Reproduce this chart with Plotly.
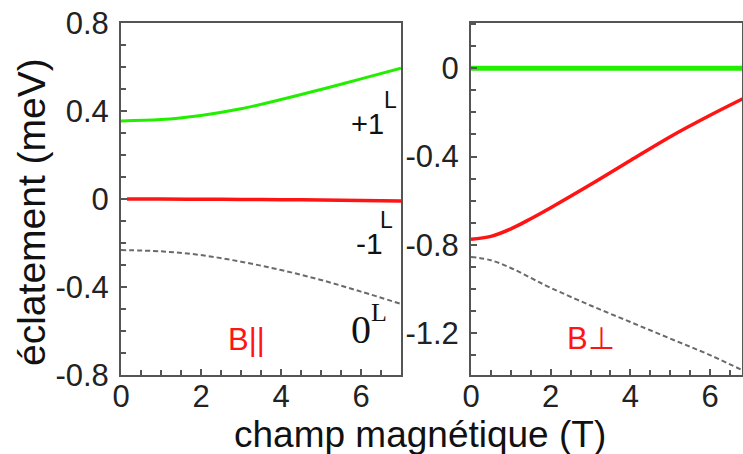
import plotly.graph_objects as go

W, H = 743, 454

# ---- data ----
# left panel: B parallel
par_green_x = [0, 1, 2, 3, 4, 5, 6, 7]
par_green_y = [0.355, 0.361, 0.380, 0.410, 0.452, 0.498, 0.546, 0.594]
par_red_x = [0.15, 1, 2, 3, 4, 5, 6, 7]
par_red_y = [0.0, 0.0, -0.001, -0.002, -0.003, -0.005, -0.007, -0.009]
par_gray_x = [0, 1, 2, 3, 4, 5, 6, 7]
par_gray_y = [-0.232, -0.238, -0.255, -0.285, -0.323, -0.368, -0.421, -0.477]

# right panel: B perpendicular
perp_green_x = [0, 1, 2, 3, 4, 5, 6, 7]
perp_green_y = [0, 0, 0, 0, 0, 0, 0, 0]
perp_red_x = [0, 0.5, 1, 1.5, 2, 3, 4, 5, 6, 7]
perp_red_y = [-0.775, -0.762, -0.728, -0.682, -0.632, -0.527, -0.418, -0.31, -0.213, -0.122]
perp_gray_x = [0, 0.5, 1, 1.5, 2, 3, 4, 5, 6, 7]
perp_gray_y = [-0.855, -0.87, -0.905, -0.95, -0.995, -1.075, -1.15, -1.225, -1.3, -1.385]

x_tickvals = [0, 2, 4, 6]
x_ticktext = ["0", "2", "4", "6"]
left_tickvals = [-0.8, -0.4, 0, 0.4, 0.8]
left_ticktext = ["-0.8", "-0.4", "0", "0.4", "0.8"]
right_tickvals = [-1.2, -0.8, -0.4, 0]
right_ticktext = ["-1.2", "-0.8", "-0.4", "0"]

GREEN = "#22ee00"
RED = "#ff1414"
GRAY = "#6a6a6a"
AX = "#555555"

fig = go.Figure()
fig.add_trace(go.Scatter(x=par_green_x, y=par_green_y, mode="lines", line=dict(color=GREEN, width=3, shape="spline", smoothing=1), xaxis="x", yaxis="y"))
fig.add_trace(go.Scatter(x=par_red_x, y=par_red_y, mode="lines", line=dict(color=RED, width=3.5, shape="spline"), xaxis="x", yaxis="y"))
fig.add_trace(go.Scatter(x=par_gray_x, y=par_gray_y, mode="lines", line=dict(color=GRAY, width=2, dash="5px,3px", shape="spline"), xaxis="x", yaxis="y"))
fig.add_trace(go.Scatter(x=perp_green_x, y=perp_green_y, mode="lines", line=dict(color=GREEN, width=5), xaxis="x2", yaxis="y2"))
fig.add_trace(go.Scatter(x=perp_red_x, y=perp_red_y, mode="lines", line=dict(color=RED, width=3.5, shape="spline", smoothing=1), xaxis="x2", yaxis="y2"))
fig.add_trace(go.Scatter(x=perp_gray_x, y=perp_gray_y, mode="lines", line=dict(color=GRAY, width=2, dash="5px,3px", shape="spline"), xaxis="x2", yaxis="y2"))

def px(x):
    return x / W

def py(y):
    return 1 - y / H

tickfont = dict(family="Liberation Sans, Arial", size=31, color="#222222")

common_axis = dict(showline=True, linecolor=AX, linewidth=2, mirror=True, showgrid=False, zeroline=False,
                   ticks="inside", ticklen=6, tickwidth=1.5, tickcolor=AX, tickfont=tickfont,
                   automargin=False)

minor_x = dict(dtick=0.5, tick0=0, ticks="inside", ticklen=5, tickcolor=AX, tickwidth=1.5)
minor_y = dict(dtick=0.1, tick0=0, ticks="inside", ticklen=5, tickcolor=AX, tickwidth=1.5)

fig.update_layout(
    width=W, height=H, margin=dict(l=0, r=0, t=0, b=0),
    paper_bgcolor="white", plot_bgcolor="white", showlegend=False,
    xaxis=dict(domain=[px(121), px(401)], range=[0, 7], anchor="y",
               tickvals=x_tickvals, ticktext=x_ticktext, minor=minor_x,
               ticklabelstandoff=-7, **common_axis),
    yaxis=dict(domain=[py(375), py(23)], range=[-0.8, 0.8], anchor="x",
               tickvals=left_tickvals, ticktext=left_ticktext, minor=minor_y,
               ticklabelstandoff=4, **common_axis),
    xaxis2=dict(domain=[px(471), px(742)], range=[0, 6.8], anchor="y2",
                tickvals=x_tickvals, ticktext=x_ticktext, minor=minor_x,
                ticklabelstandoff=-7, **common_axis),
    yaxis2=dict(domain=[py(375), py(23)], range=[-1.39, 0.205], anchor="x2",
                tickvals=right_tickvals, ticktext=right_ticktext, minor=minor_y,
                ticklabelstandoff=4, **common_axis),
)

sans = "Liberation Sans, Arial"
serif = "Liberation Serif, Times New Roman"

def ann(text, x, y, size, family=sans, color="#111111", angle=0):
    fig.add_annotation(text=text, x=px(x), y=py(y), xref="paper", yref="paper",
                       showarrow=False, font=dict(family=family, size=size, color=color),
                       textangle=angle, xanchor="center", yanchor="middle")

# axis titles
ann("éclatement (meV)", 31, 212, 39, angle=-90)
ann("champ magnétique (T)", 420, 434, 37)

# level labels
ann("+1", 367, 124, 29)
ann("L", 390, 100, 23)
ann("-1", 369, 243, 30)
ann("L", 387, 220, 23)
ann("0", 361, 329, 40, family=serif)
ann("L", 379, 312, 26, family=serif)

# field orientation labels
ann("B||", 246, 339, 31, color=RED)
ann("B⊥", 591, 338, 31, color=RED)

fig.write_html("out.html", config={"displayModeBar": False},
               post_script="document.body.style.margin='0px';document.body.style.overflow='hidden';")
